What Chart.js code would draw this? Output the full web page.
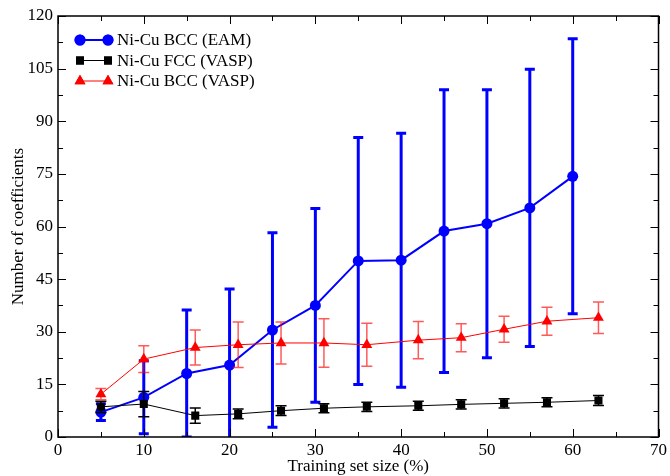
<!DOCTYPE html>
<html>
<head>
<meta charset="utf-8">
<script src="https://cdn.jsdelivr.net/npm/chart.js@4"></script>
<style>
  html, body { margin: 0; padding: 0; background: #fff; }
  #wrap { width: 670px; height: 476px; }
</style>
</head>
<body>
<div id="wrap"><canvas id="myChart"></canvas></div>
<script>
// data
const eamX = [5, 10, 15, 20, 25, 30, 35, 40, 45, 50, 55, 60];
const eamY = [7.1, 11.3, 18.1, 20.5, 30.5, 37.5, 50.2, 50.4, 58.7, 60.8, 65.3, 74.3];
const eamErr = [2.4, 10.4, 18.1, 21.7, 27.7, 27.6, 35.2, 36.2, 40.3, 38.2, 39.5, 39.2];

const vaspX = [5, 10, 16, 21, 26, 31, 36, 42, 47, 52, 57, 63];
const fccY = [8.6, 9.4, 6.1, 6.6, 7.5, 8.2, 8.6, 8.9, 9.3, 9.6, 9.9, 10.4];
const fccErr = [1.6, 3.6, 2.2, 1.4, 1.4, 1.3, 1.3, 1.3, 1.3, 1.3, 1.3, 1.4];
const bccY = [12.2, 22.2, 25.5, 26.3, 26.8, 26.8, 26.3, 27.6, 28.3, 30.7, 33.0, 34.0];
const bccErr = [1.6, 3.8, 5.0, 6.5, 6.0, 6.9, 6.1, 5.3, 4.0, 3.7, 4.0, 4.5];

const xTicks = [0, 10, 20, 30, 40, 50, 60, 70];
const yTicks = [0, 15, 30, 45, 60, 75, 90, 105, 120];

const seriesNames = ['Ni-Cu BCC (EAM)', 'Ni-Cu FCC (VASP)', 'Ni-Cu BCC (VASP)'];

const serif = "'Liberation Serif', 'DejaVu Serif', serif";

const pts = (xs, ys) => xs.map((x, i) => ({ x: x, y: ys[i] }));

// error bars, drawn right before each dataset
const errorBars = {
  id: 'errorBars',
  beforeDatasetDraw(chart, args) {
    const ds = chart.data.datasets[args.index];
    if (!ds.err) return;
    const ctx = chart.ctx, xs = chart.scales.x, ys = chart.scales.y;
    const area = chart.chartArea;
    ctx.save();
    ctx.beginPath();
    ctx.rect(area.left, area.top, area.right - area.left, area.bottom - area.top);
    ctx.clip();
    ctx.strokeStyle = ds.errColor;
    ctx.lineWidth = ds.errWidth;
    ds.data.forEach((p, i) => {
      const px = xs.getPixelForValue(p.x);
      const top = ys.getPixelForValue(p.y + ds.err[i]);
      const bot = ys.getPixelForValue(p.y - ds.err[i]);
      const w = ds.capWidth / 2;
      ctx.beginPath();
      ctx.moveTo(px, top); ctx.lineTo(px, bot);
      ctx.moveTo(px - w, top); ctx.lineTo(px + w, top);
      ctx.moveTo(px - w, bot); ctx.lineTo(px + w, bot);
      ctx.stroke();
    });
    ctx.restore();
  }
};

// frame with inward ticks on all sides, plus legend inside the plot
const frame = {
  id: 'frame',
  afterDraw(chart) {
    const ctx = chart.ctx, xs = chart.scales.x, ys = chart.scales.y;
    const a = chart.chartArea;
    ctx.save();
    ctx.strokeStyle = '#000';
    ctx.lineWidth = 1.5;
    ctx.strokeRect(a.left, a.top, a.right - a.left, a.bottom - a.top);
    ctx.lineWidth = 1;
    ctx.beginPath();
    for (let v = 0; v <= 70; v += 5) {
      const px = Math.round(xs.getPixelForValue(v)) + 0.5;
      const len = v % 10 === 0 ? 8 : 5;
      ctx.moveTo(px, a.bottom); ctx.lineTo(px, a.bottom - len);
      ctx.moveTo(px, a.top); ctx.lineTo(px, a.top + len);
    }
    for (let v = 0; v <= 120; v += 7.5) {
      const py = Math.round(ys.getPixelForValue(v)) + 0.5;
      const len = v % 15 === 0 ? 8 : 5;
      ctx.moveTo(a.left, py); ctx.lineTo(a.left + len, py);
      ctx.moveTo(a.right, py); ctx.lineTo(a.right - len, py);
    }
    ctx.stroke();

    // legend
    ctx.font = '17px ' + serif;
    ctx.textBaseline = 'middle';
    chart.data.datasets.forEach((ds, i) => {
      const y = 40 + i * 20.5;
      const x0 = 80, x1 = 108;
      ctx.strokeStyle = ds.borderColor;
      ctx.lineWidth = ds.borderWidth;
      ctx.beginPath(); ctx.moveTo(x0, y); ctx.lineTo(x1, y); ctx.stroke();
      ctx.fillStyle = ds.pointBackgroundColor;
      [x0, x1].forEach(px => {
        ctx.beginPath();
        Chart.helpers.drawPoint(ctx, {
          pointStyle: ds.pointStyle, radius: ds.pointRadius, borderWidth: 0, rotation: 0
        }, px, y);
        ctx.fill();
      });
      ctx.fillStyle = '#000';
      ctx.fillText(ds.label, 117, y + 1);
    });
    ctx.restore();
  }
};

const ctx = document.getElementById('myChart');

new Chart(ctx, {
  type: 'line',
  data: {
    datasets: [{
      label: seriesNames[0],
      data: pts(eamX, eamY),
      err: eamErr,
      errColor: '#0000ff',
      errWidth: 3,
      capWidth: 10,
      borderColor: '#0000ff',
      borderWidth: 2,
      pointStyle: 'circle',
      pointRadius: 5.5,
      pointBackgroundColor: '#0000ff',
      pointBorderWidth: 0,
      order: 3
    }, {
      label: seriesNames[1],
      data: pts(vaspX, fccY),
      err: fccErr,
      errColor: '#000000',
      errWidth: 1.5,
      capWidth: 11,
      borderColor: '#000000',
      borderWidth: 1,
      pointStyle: 'rect',
      pointRadius: 5.7,
      pointBackgroundColor: '#000000',
      pointBorderWidth: 0,
      order: 2
    }, {
      label: seriesNames[2],
      data: pts(vaspX, bccY),
      err: bccErr,
      errColor: 'rgba(255, 0, 0, 0.65)',
      errWidth: 1.5,
      capWidth: 11,
      borderColor: '#ff0000',
      borderWidth: 1,
      pointStyle: 'triangle',
      pointRadius: 6.3,
      pointBackgroundColor: '#ff0000',
      pointBorderWidth: 0,
      order: 1
    }]
  },
  options: {
    responsive: true,
    maintainAspectRatio: false,
    animation: false,
    events: [],
    layout: { padding: { top: 16, right: 9, left: 0, bottom: 0 } },
    plugins: {
      legend: { display: false },
      tooltip: { enabled: false }
    },
    scales: {
      x: {
        type: 'linear',
        min: 0, max: 70,
        afterFit(scale) { scale.height = 39; },
        afterBuildTicks(scale) { scale.ticks = xTicks.map(v => ({ value: v })); },
        grid: { display: false, drawTicks: false },
        border: { display: false },
        ticks: { color: '#000', padding: 3, font: { family: serif, size: 17 } },
        title: {
          display: true, text: 'Training set size (%)', color: '#000',
          padding: { top: 0, bottom: -1 }, font: { family: serif, size: 17 }
        }
      },
      y: {
        type: 'linear',
        min: 0, max: 120,
        afterFit(scale) { scale.width = 58; },
        afterBuildTicks(scale) { scale.ticks = yTicks.map(v => ({ value: v })); },
        grid: { display: false, drawTicks: false },
        border: { display: false },
        ticks: { color: '#000', padding: 5, font: { family: serif, size: 17 } },
        title: {
          display: true, text: 'Number of coefficients', color: '#000',
          padding: { top: 8, bottom: 0 }, font: { family: serif, size: 17 }
        }
      }
    }
  },
  plugins: [errorBars, frame]
});
</script>
</body>
</html>
